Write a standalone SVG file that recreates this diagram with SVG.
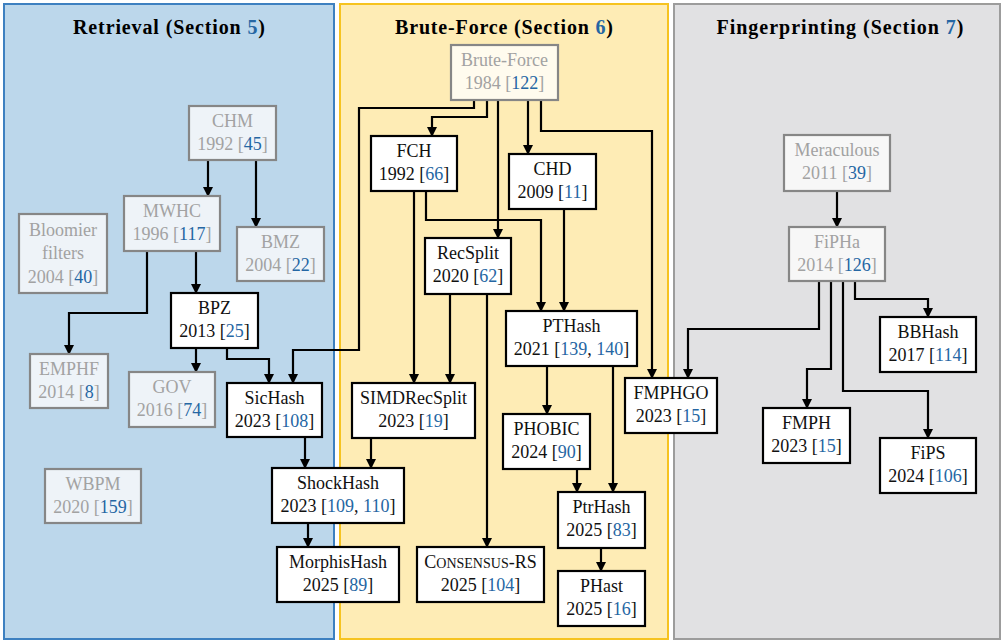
<svg xmlns="http://www.w3.org/2000/svg" width="1003" height="642" viewBox="0 0 1003 642">
<defs>
<marker id="ah" markerUnits="userSpaceOnUse" markerWidth="10" markerHeight="10" viewBox="0 0 10 10" refX="8" refY="5" orient="auto">
<path d="M0,0 L10,5 L0,10 z" fill="#000"/>
</marker>
<style>
text{font-family:"Liberation Serif","Times New Roman",serif;font-size:18px;text-anchor:middle}
.title{font-weight:bold;font-size:20px}
.ref{fill:#2566a3}
.g rect{stroke:#868686;stroke-width:2.2}
.g text{fill:#a2a2a2}
.n rect{fill:#fff;stroke:#000;stroke-width:2.2}
.n text{fill:#111}
.gr rect{fill:#eef3f8}
.gb rect{fill:#fffbee}
.gf rect{fill:#f7f7f7}
#connectors path{fill:none;stroke:#000;stroke-width:2.2;marker-end:url(#ah)}
.sc{font-variant:small-caps;font-size:20px}
</style>
</defs>
<rect width="1003" height="642" fill="#fff"/>
<g id="panels">
<rect x="4" y="4" width="330" height="635" fill="#bcd7eb" stroke="#3d80c0" stroke-width="2"/>
<rect x="340" y="4" width="328" height="635" fill="#feecb5" stroke="#f6c320" stroke-width="2"/>
<rect x="674" y="4" width="326" height="635" fill="#e1e1e3" stroke="#9c9c9c" stroke-width="2"/>
<text class="title" x="169" y="34" textLength="192" lengthAdjust="spacing">Retrieval (Section <tspan class="ref">5</tspan>)</text>
<text class="title" x="504" y="34" textLength="218" lengthAdjust="spacing">Brute-Force (Section <tspan class="ref">6</tspan>)</text>
<text class="title" x="840" y="34" textLength="247" lengthAdjust="spacing">Fingerprinting (Section <tspan class="ref">7</tspan>)</text>
</g>
<g id="connectors">
<path d="M208,160 V195"/>
<path d="M256,160 V226"/>
<path d="M196,251 V292"/>
<path d="M147,251 V313 H69 V353"/>
<path d="M196,348 V371"/>
<path d="M227,348 V359 H269 V382"/>
<path d="M474,100 V108 H359 V350 H293 V382"/>
<path d="M487,100 V117 H432 V135"/>
<path d="M498,100 V237"/>
<path d="M528,100 V153"/>
<path d="M541,100 V131 H652 V377"/>
<path d="M414,191 V382"/>
<path d="M426,191 V220 H541 V310"/>
<path d="M564,209 V310"/>
<path d="M450,294 V382"/>
<path d="M487,294 V546"/>
<path d="M371,438 V467"/>
<path d="M305,437 V467"/>
<path d="M308,523 V546"/>
<path d="M547,366 V413"/>
<path d="M613,366 V491"/>
<path d="M577,469 V491"/>
<path d="M601,548 V570"/>
<path d="M837,191 V226"/>
<path d="M855,281 V299 H928 V316"/>
<path d="M819,281 V329 H688 V377"/>
<path d="M831,281 V369 H807 V407"/>
<path d="M843,281 V391 H928 V437"/>
</g>
<g id="nodes">
<g id="chm" class="g gr"><rect x="189" y="106" width="87" height="54"/><text x="232.5" y="127">CHM</text><text x="232.5" y="150">1992 [<tspan class="ref">45</tspan>]</text></g>
<g id="mwhc" class="g gr"><rect x="124" y="196" width="96" height="55"/><text x="172" y="217">MWHC</text><text x="172" y="240">1996 [<tspan class="ref">117</tspan>]</text></g>
<g id="bloomier" class="g gr"><rect x="19" y="214" width="88" height="79"/><text x="63" y="236">Bloomier</text><text x="63" y="259">filters</text><text x="63" y="283">2004 [<tspan class="ref">40</tspan>]</text></g>
<g id="bmz" class="g gr"><rect x="237" y="227" width="87" height="54"/><text x="280.5" y="248">BMZ</text><text x="280.5" y="271">2004 [<tspan class="ref">22</tspan>]</text></g>
<g id="emphf" class="g gr"><rect x="30" y="354" width="78" height="54"/><text x="69" y="375">EMPHF</text><text x="69" y="398">2014 [<tspan class="ref">8</tspan>]</text></g>
<g id="gov" class="g gr"><rect x="129" y="372" width="86" height="55"/><text x="172" y="393">GOV</text><text x="172" y="416">2016 [<tspan class="ref">74</tspan>]</text></g>
<g id="wbpm" class="g gr"><rect x="45" y="469" width="96" height="54"/><text x="93" y="490">WBPM</text><text x="93" y="513">2020 [<tspan class="ref">159</tspan>]</text></g>
<g id="bpz" class="n"><rect x="171" y="293" width="87" height="55"/><text x="214.5" y="314">BPZ</text><text x="214.5" y="337">2013 [<tspan class="ref">25</tspan>]</text></g>
<g id="sichash" class="n"><rect x="227" y="383" width="95" height="54"/><text x="274.5" y="404">SicHash</text><text x="274.5" y="427">2023 [<tspan class="ref">108</tspan>]</text></g>
<g id="shockhash" class="n"><rect x="272" y="468" width="132" height="55"/><text x="338" y="489">ShockHash</text><text x="338" y="512">2023 [<tspan class="ref">109</tspan>, <tspan class="ref">110</tspan>]</text></g>
<g id="morphishash" class="n"><rect x="277" y="547" width="122" height="55"/><text x="338" y="568">MorphisHash</text><text x="338" y="591">2025 [<tspan class="ref">89</tspan>]</text></g>
<g id="bruteforce" class="g gb"><rect x="451" y="45" width="107" height="55"/><text x="504.5" y="66">Brute-Force</text><text x="504.5" y="89">1984 [<tspan class="ref">122</tspan>]</text></g>
<g id="fch" class="n"><rect x="371" y="136" width="86" height="55"/><text x="414" y="157">FCH</text><text x="414" y="180">1992 [<tspan class="ref">66</tspan>]</text></g>
<g id="chd" class="n"><rect x="509" y="154" width="87" height="55"/><text x="552.5" y="175">CHD</text><text x="552.5" y="198">2009 [<tspan class="ref">11</tspan>]</text></g>
<g id="recsplit" class="n"><rect x="425" y="238" width="86" height="56"/><text x="468" y="259">RecSplit</text><text x="468" y="282">2020 [<tspan class="ref">62</tspan>]</text></g>
<g id="simdrecsplit" class="n"><rect x="352" y="383" width="123" height="55"/><text x="413.5" y="404">SIMDRecSplit</text><text x="413.5" y="427">2023 [<tspan class="ref">19</tspan>]</text></g>
<g id="pthash" class="n"><rect x="506" y="311" width="131" height="55"/><text x="571.5" y="332">PTHash</text><text x="571.5" y="355">2021 [<tspan class="ref">139</tspan>, <tspan class="ref">140</tspan>]</text></g>
<g id="phobic" class="n"><rect x="503" y="414" width="87" height="55"/><text x="546.5" y="435">PHOBIC</text><text x="546.5" y="458">2024 [<tspan class="ref">90</tspan>]</text></g>
<g id="consensusrs" class="n"><rect x="417" y="547" width="127" height="55"/><text x="480.5" y="568">C<tspan class="sc">onsensus</tspan>-RS</text><text x="480.5" y="591">2025 [<tspan class="ref">104</tspan>]</text></g>
<g id="ptrhash" class="n"><rect x="558" y="492" width="87" height="56"/><text x="601.5" y="513">PtrHash</text><text x="601.5" y="536">2025 [<tspan class="ref">83</tspan>]</text></g>
<g id="phast" class="n"><rect x="558" y="571" width="87" height="55"/><text x="601.5" y="592">PHast</text><text x="601.5" y="615">2025 [<tspan class="ref">16</tspan>]</text></g>
<g id="fmphgo" class="n"><rect x="625" y="378" width="92" height="55"/><text x="671" y="399">FMPHGO</text><text x="671" y="422">2023 [<tspan class="ref">15</tspan>]</text></g>
<g id="meraculous" class="g gf"><rect x="784" y="135" width="106" height="56"/><text x="837" y="156">Meraculous</text><text x="837" y="179">2011 [<tspan class="ref">39</tspan>]</text></g>
<g id="fipha" class="g gf"><rect x="789" y="227" width="96" height="54"/><text x="837" y="248">FiPHa</text><text x="837" y="271">2014 [<tspan class="ref">126</tspan>]</text></g>
<g id="bbhash" class="n"><rect x="880" y="317" width="96" height="55"/><text x="928" y="338">BBHash</text><text x="928" y="361">2017 [<tspan class="ref">114</tspan>]</text></g>
<g id="fmph" class="n"><rect x="763" y="408" width="87" height="55"/><text x="806.5" y="429">FMPH</text><text x="806.5" y="452">2023 [<tspan class="ref">15</tspan>]</text></g>
<g id="fips" class="n"><rect x="880" y="438" width="96" height="55"/><text x="928" y="459">FiPS</text><text x="928" y="482">2024 [<tspan class="ref">106</tspan>]</text></g>
</g>
</svg>
